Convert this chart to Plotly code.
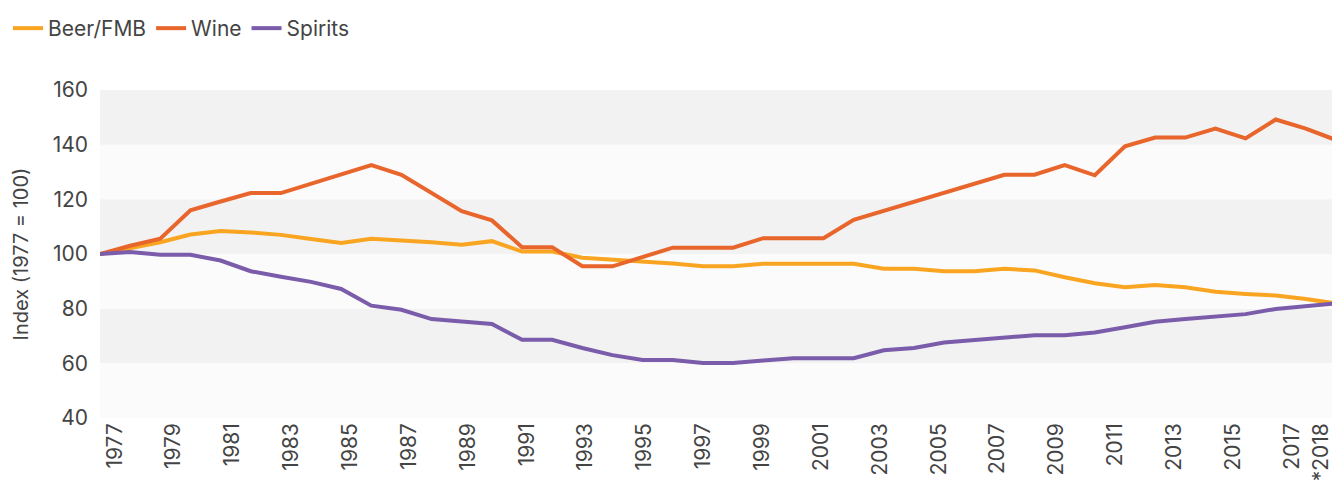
import plotly.graph_objects as go

years = list(range(1977, 2019))
beer = [100, 102, 104.3, 107.1, 108.4, 107.9, 107, 105.5, 104, 105.6, 105, 104.3,
        103.4, 104.7, 100.9, 100.9, 98.6, 98, 97.1, 96.5, 95.5, 95.5, 96.4, 96.4,
        96.4, 96.4, 94.6, 94.6, 93.7, 93.7, 94.6, 94, 91.5, 89.3, 87.8, 88.7,
        87.8, 86.2, 85.4, 84.8, 83.5, 81.9]
wine = [100, 103, 105.6, 116, 119.2, 122.3, 122.3, 125.8, 129.1, 132.5, 129, 122.4,
        115.7, 112.3, 102.5, 102.5, 95.5, 95.5, 98.9, 102.3, 102.3, 102.3, 105.8, 105.8,
        105.8, 112.5, 115.8, 119.1, 122.4, 125.7, 129, 129, 132.5, 128.8, 139.4, 142.6,
        142.6, 145.9, 142.3, 149.2, 145.9, 141.7]
spirits = [100, 100.7, 99.7, 99.7, 97.6, 93.7, 91.7, 89.8, 87.2, 81.1, 79.6, 76.2,
           75.3, 74.4, 68.6, 68.6, 65.6, 63, 61.2, 61.2, 60.1, 60.1, 61, 61.9,
           61.9, 61.9, 64.8, 65.6, 67.6, 68.5, 69.3, 70.3, 70.3, 71.3, 73.2, 75.2,
           76.2, 77, 78, 79.9, 80.9, 81.9]
series_names = ["Beer/FMB", "Wine", "Spirits"]
colors = ["#F9A521", "#E8652C", "#7A5CAB"]

tick_years = list(range(1977, 2018, 2)) + [2018]
tick_labels = [str(y) for y in range(1977, 2018, 2)] + ["*2018"]
y_ticks = [40, 60, 80, 100, 120, 140, 160]

# labels sit at category-band centres across the data span
n = len(years)
span = years[-1] - years[0]
tick_pos = [years[0] + (y - years[0] + 0.5) * span / n for y in tick_years]

fig = go.Figure()
for name, vals, c in zip(series_names, [beer, wine, spirits], colors):
    fig.add_trace(go.Scatter(x=years, y=vals, mode="lines", name=name,
                             line=dict(color=c, width=4)))

shapes = []
for i in range(len(y_ticks) - 1):
    shapes.append(dict(type="rect", xref="paper", yref="y", x0=0, x1=1,
                       y0=y_ticks[i], y1=y_ticks[i + 1], layer="below", line_width=0,
                       fillcolor="#F2F2F2" if i % 2 == 1 else "#FBFBFB"))

font_fam = "Inter, Roboto, sans-serif"
txt = "#444444"
# page body has an 8px margin, so the figure is sized to fit inside the window
fig.update_layout(
    width=1332, height=477,
    margin=dict(l=92, r=4, t=82, b=67),
    paper_bgcolor="white", plot_bgcolor="white",
    font=dict(family=font_fam, color=txt, size=21),
    shapes=shapes,
    showlegend=True,
    legend=dict(orientation="h", xref="container", yref="container",
                x=0, y=1.0, xanchor="left", yanchor="top",
                font=dict(size=21, color=txt), itemwidth=30,
                bgcolor="rgba(0,0,0,0)"),
    xaxis=dict(range=[years[0], years[-1]], tickvals=tick_pos, ticktext=tick_labels,
               tickangle=-90, showgrid=False, zeroline=False, showline=False,
               ticks="", automargin=False, tickfont=dict(size=21, color=txt),
               fixedrange=True),
    yaxis=dict(range=[40, 160], tickvals=y_ticks, showgrid=False, zeroline=False,
               showline=False, ticks="", ticklabelstandoff=11, automargin=False,
               tickfont=dict(size=21, color=txt),
               title=dict(text="Index (1977 = 100)", font=dict(size=20, color=txt),
                          standoff=18)),
)
fig.write_html("out.html")
